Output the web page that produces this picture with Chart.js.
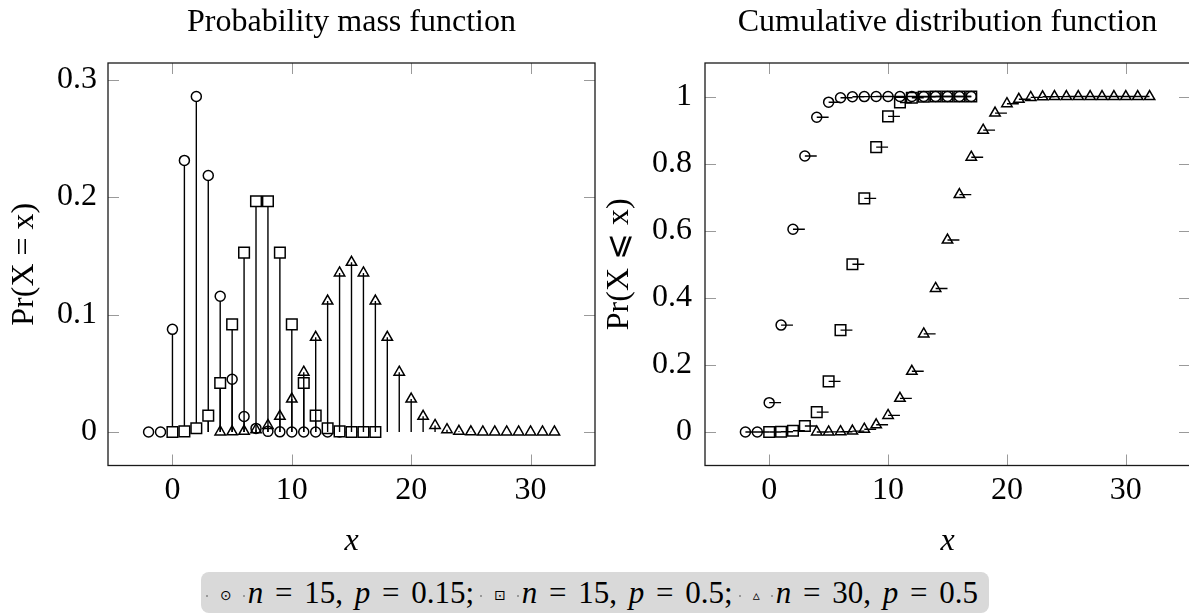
<!DOCTYPE html>
<html>
<head>
<meta charset="utf-8">
<script src="https://cdn.jsdelivr.net/npm/chart.js@4.4.1/dist/chart.umd.min.js"></script>
<style>
  html, body { margin: 0; padding: 0; background: #fff; overflow: hidden; width: 1189px; height: 613px; }
  canvas { position: absolute; top: 0; }
  #pmf { left: 0; }
  #cdf { left: 600px; }
  #legend {
    position: absolute; left: 201px; top: 572px; width: 788px; height: 41px;
    background: #d9d9d9; border-radius: 8px;
    font-family: 'Liberation Serif', serif; font-size: 31px; line-height: 41px;
    text-align: center; white-space: nowrap; color: #000; word-spacing: 4px;
  }
  #legend .dot { display: inline-block; width: 2px; height: 2px; background: #999; vertical-align: middle; }
  #legend .mk { font-family: 'DejaVu Sans', sans-serif; font-size: 14px; vertical-align: middle; margin: 0 11px 0 12px; word-spacing: 0; }
  #legend .txt { margin-left: 3px; margin-right: 6px; }
</style>
</head>
<body>
<canvas id="pmf" width="600" height="613"></canvas>
<canvas id="cdf" width="600" height="613"></canvas>
<div id="legend"></div>
<script>
const FONT = "'Liberation Serif', serif";

// x positions of each series
const xA = [-2, -1, 0, 1, 2, 3, 4, 5, 6, 7, 8, 9, 10, 11, 12, 13, 14, 15, 16, 17];
const xB = [0, 1, 2, 3, 4, 5, 6, 7, 8, 9, 10, 11, 12, 13, 14, 15, 16, 17];
const xC = [4, 5, 6, 7, 8, 9, 10, 11, 12, 13, 14, 15, 16, 17, 18, 19, 20, 21, 22, 23, 24, 25, 26, 27, 28, 29, 30, 31, 32];

// Pr(X = x)
const pmfA = [0, 0, 0.0874, 0.2312, 0.2856, 0.2184, 0.1156, 0.0449, 0.0132, 0.0030, 0.0005, 0.0001, 0, 0, 0, 0, 0, 0, 0, 0];
const pmfB = [0.0000, 0.0005, 0.0032, 0.0139, 0.0417, 0.0916, 0.1527, 0.1964, 0.1964, 0.1527, 0.0916, 0.0417, 0.0139, 0.0032, 0.0005, 0.0000, 0, 0];
const pmfC = [0.0000, 0.0001, 0.0006, 0.0019, 0.0055, 0.0133, 0.0280, 0.0509, 0.0806, 0.1115, 0.1354, 0.1445, 0.1354, 0.1115, 0.0806, 0.0509, 0.0280, 0.0133, 0.0055, 0.0019, 0.0006, 0.0001, 0, 0, 0, 0, 0, 0, 0];

// Pr(X <= x)
const cdfA = [0, 0, 0.0874, 0.3186, 0.6042, 0.8227, 0.9383, 0.9832, 0.9964, 0.9994, 0.9999, 1, 1, 1, 1, 1, 1, 1, 1, 1];
const cdfB = [0.0000, 0.0005, 0.0037, 0.0176, 0.0592, 0.1509, 0.3036, 0.5000, 0.6964, 0.8491, 0.9408, 0.9824, 0.9963, 0.9995, 1, 1, 1, 1];
const cdfC = [0.0000, 0.0002, 0.0007, 0.0026, 0.0081, 0.0214, 0.0494, 0.1002, 0.1808, 0.2923, 0.4278, 0.5722, 0.7077, 0.8192, 0.8998, 0.9506, 0.9786, 0.9919, 0.9974, 0.9993, 0.9998, 1, 1, 1, 1, 1, 1, 1, 1];

const xTicks = [0, 10, 20, 30];
const pmfTicks = [0, 0.1, 0.2, 0.3];
const cdfTicks = [0, 0.2, 0.4, 0.6, 0.8, 1];

const nValues = [15, 15, 30];
const pValues = [0.15, 0.5, 0.5];
const legendGlyphs = ['\u2299', '\u22A1', '\u25B5'];

// vertical stems from 0 to each value, broken by gaps
function stems(xs, ys) {
    const pts = [];
    xs.forEach((x, i) => pts.push({x, y: 0}, {x, y: ys[i]}, {x, y: null}));
    return pts;
}

// horizontal piece from each point to the next x, no vertical jump
function steps(xs, ys) {
    const pts = [];
    for (let i = 0; i < xs.length - 1; i++) {
        pts.push({x: xs[i], y: ys[i]}, {x: xs[i + 1], y: ys[i]}, {x: xs[i + 1], y: null});
    }
    return pts;
}

function points(xs, ys) {
    return xs.map((x, i) => ({x, y: ys[i]}));
}

function lineSet(data, order) {
    return {
        data, order, borderColor: "#000", borderWidth: 1.4,
        pointRadius: 0, pointHoverRadius: 0, spanGaps: false, fill: false, tension: 0
    };
}

function markSet(data, style, radius, fill, order) {
    return {
        data, order, showLine: false,
        pointStyle: style, pointRadius: radius, pointHoverRadius: radius,
        pointBorderColor: "#000", pointBorderWidth: 1.5, pointBackgroundColor: fill
    };
}

// ticks inside the frame on all four sides, then the frame itself
const frame = {
    id: "frame",
    afterDraw(chart) {
        const {ctx, chartArea: a, scales: {x, y}} = chart;
        ctx.save();
        ctx.strokeStyle = "#9a9a9a";
        ctx.lineWidth = 1;
        ctx.beginPath();
        x.ticks.forEach(t => {
            const px = Math.round(x.getPixelForValue(t.value)) + 0.5;
            ctx.moveTo(px, a.bottom); ctx.lineTo(px, a.bottom - 11);
            ctx.moveTo(px, a.top); ctx.lineTo(px, a.top + 11);
        });
        y.ticks.forEach(t => {
            const py = Math.round(y.getPixelForValue(t.value)) + 0.5;
            ctx.moveTo(a.left, py); ctx.lineTo(a.left + 11, py);
            ctx.moveTo(a.right, py); ctx.lineTo(a.right - 11, py);
        });
        ctx.stroke();
        ctx.strokeStyle = "#1a1a1a";
        ctx.lineWidth = 1.3;
        ctx.strokeRect(a.left, a.top, a.width, a.height);
        ctx.restore();
    }
};

function makeOptions(title, yLabel, yMin, yMax, yTicks, yWidth, yTitlePad, tickPad, padRight) {
    return {
        responsive: false,
        animation: false,
        devicePixelRatio: 1,
        layout: {autoPadding: false, padding: {left: 0, right: padRight, top: 0, bottom: 0}},
        plugins: {
            legend: {display: false},
            tooltip: {enabled: false},
            title: {
                display: true, text: title, color: "#000", fullSize: false,
                font: {family: FONT, size: 32, weight: "normal", lineHeight: 1.2},
                padding: {top: 3, bottom: 21.6}
            }
        },
        scales: {
            x: {
                type: "linear", min: -5.4, max: 35.4,
                afterBuildTicks: s => { s.ticks = xTicks.map(v => ({value: v})); },
                afterFit: s => { s.height = 147.5; s.paddingLeft = 0; s.paddingRight = 0; },
                grid: {display: false, drawTicks: false},
                border: {display: false},
                ticks: {color: "#000", padding: 6, maxRotation: 0, font: {family: FONT, size: 32}, callback: v => String(v)},
                title: {display: true, text: "x", color: "#000", font: {family: FONT, size: 32, style: "italic"}, padding: {top: 0, bottom: 51.8}}
            },
            y: {
                type: "linear", min: yMin, max: yMax,
                afterBuildTicks: s => { s.ticks = yTicks.map(v => ({value: v})); },
                afterFit: s => { s.width = yWidth; s.paddingTop = 0; s.paddingBottom = 0; },
                grid: {display: false, drawTicks: false},
                border: {display: false},
                ticks: {color: "#000", padding: tickPad, font: {family: FONT, size: 32}, callback: v => String(v)},
                title: {display: true, text: yLabel, color: "#000", font: {family: FONT, size: 32}, padding: {top: yTitlePad, bottom: 0}}
            }
        }
    };
}

new Chart(document.getElementById("pmf").getContext("2d"), {
    type: "line",
    data: {
        datasets: [
            lineSet(stems(xA, pmfA), 6),
            markSet(points(xA, pmfA), "circle", 5, "#fff", 5),
            lineSet(stems(xB, pmfB), 4),
            markSet(points(xB, pmfB), "rect", 7.5, "#fff", 3),
            lineSet(stems(xC, pmfC), 2),
            markSet(points(xC, pmfC), "triangle", 6, "rgba(0,0,0,0)", 1)
        ]
    },
    options: makeOptions("Probability mass function", "Pr(X = x)", -0.02856, 0.31416, pmfTicks, 108, 5.8, 11, 5),
    plugins: [frame]
});

new Chart(document.getElementById("cdf").getContext("2d"), {
    type: "line",
    data: {
        datasets: [
            lineSet(steps(xA, cdfA), 6),
            markSet(points(xA, cdfA), "circle", 5, "rgba(0,0,0,0)", 5),
            lineSet(steps(xB, cdfB), 4),
            markSet(points(xB, cdfB), "rect", 7.5, "rgba(0,0,0,0)", 3),
            lineSet(steps(xC, cdfC), 2),
            markSet(points(xC, cdfC), "triangle", 6, "rgba(0,0,0,0)", 1)
        ]
    },
    options: makeOptions("Cumulative distribution function", "Pr(X \u2A7D x)", -0.1, 1.1, cdfTicks, 105, 0.8, 13, 10),
    plugins: [frame]
});

// legend as text, built from the series parameters
const legend = document.getElementById("legend");
legend.innerHTML = nValues.map((n, i) =>
    `<span class="dot"></span><span class="mk">${legendGlyphs[i]}</span><span class="dot"></span>` +
    `<span class="txt"><i>n</i> = ${n}, <i>p</i> = ${pValues[i]}${i < nValues.length - 1 ? ";" : ""}</span>`
).join("");
</script>
</body>
</html>
